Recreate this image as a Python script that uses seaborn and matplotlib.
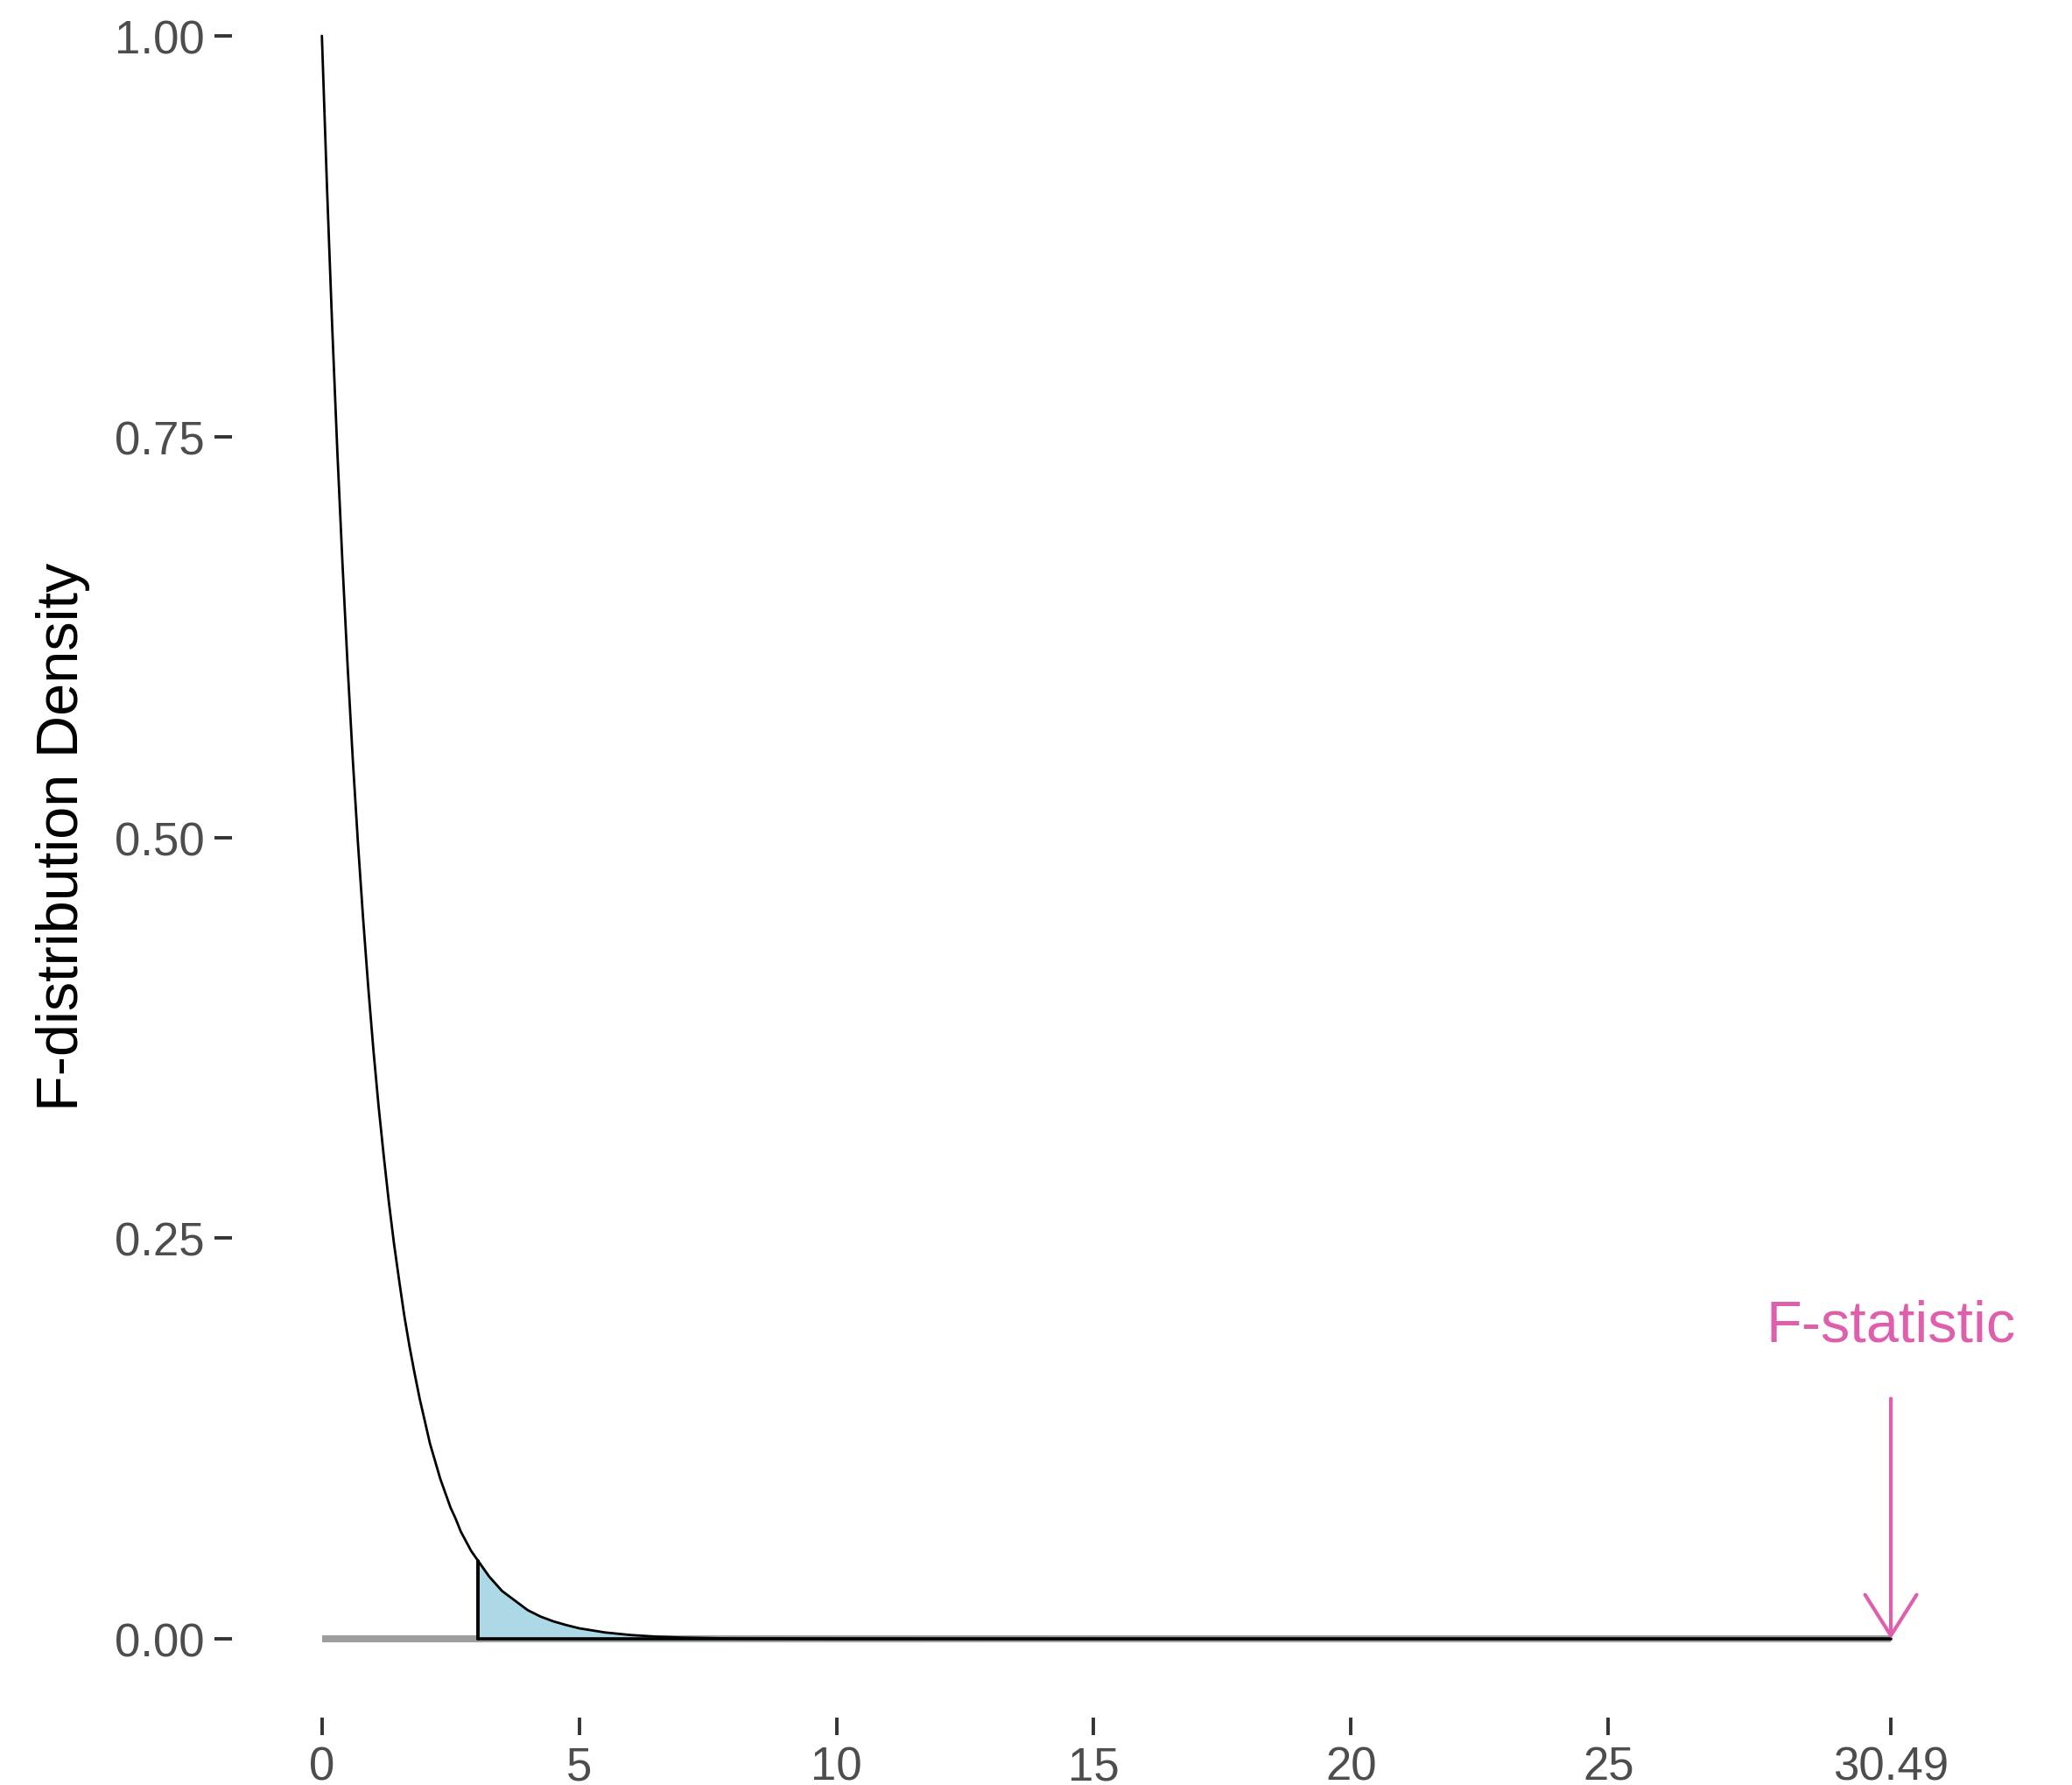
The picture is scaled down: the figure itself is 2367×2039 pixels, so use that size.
import numpy as np
import pandas as pd
import matplotlib
matplotlib.use("Agg")
import matplotlib.pyplot as plt
import seaborn as sns

# density values
f_x = [0, 0.1, 0.2, 0.3, 0.4, 0.5, 0.6, 0.7, 0.8, 0.9, 1.0, 1.1, 1.2, 1.3, 1.4,
       1.5, 1.6, 1.7, 1.8, 1.9, 2.0, 2.1, 2.2, 2.3, 2.4, 2.5, 2.6, 2.7, 2.8, 2.9,
       3.03, 3.25, 3.5, 3.75, 4.0, 4.25, 4.5, 4.75, 5.0, 5.5, 6.0, 6.5, 7.0, 8.0,
       10, 15, 20, 25, 30.49]
f_density = [1.000, 0.905, 0.819, 0.741, 0.671, 0.607, 0.549, 0.497, 0.450, 0.407,
             0.368, 0.333, 0.302, 0.273, 0.247, 0.224, 0.202, 0.183, 0.166, 0.150,
             0.136, 0.122, 0.111, 0.100, 0.091, 0.082, 0.075, 0.067, 0.061, 0.055,
             0.049, 0.039, 0.030, 0.024, 0.018, 0.014, 0.011, 0.0087, 0.0067,
             0.0041, 0.0025, 0.0015, 0.0009, 0.0003, 0.0001, 0, 0, 0, 0]
critical_value = 3.03
f_statistic = 30.49
x_ticks = [0, 5, 10, 15, 20, 25, 30.49]
x_tick_labels = ["0", "5", "10", "15", "20", "25", "30.49"]
y_ticks = [0.00, 0.25, 0.50, 0.75, 1.00]
y_tick_labels = ["0.00", "0.25", "0.50", "0.75", "1.00"]

pink = "#DE5FAC"

sns.set_theme(style="white")
plt.rcParams["font.family"] = ["Liberation Sans", "DejaVu Sans"]

df = pd.DataFrame({"x": f_x, "density": f_density})
tail = df[df["x"] >= critical_value]

fig = plt.figure(figsize=(2367 / 200, 2040 / 200), dpi=200)
ax = fig.add_axes([0.11196, 0.03775, 1 - 0.11196, 0.96225])

# baseline
ax.plot([0, f_statistic], [0, 0], color="black", alpha=0.38, lw=2.9,
        solid_capstyle="butt", zorder=1)

# shaded tail beyond critical value
ax.fill_between(tail["x"], 0, tail["density"], color="lightblue", zorder=2)
ax.plot([critical_value, critical_value], [0, tail["density"].iloc[0]],
        color="black", lw=1.4, zorder=3)
ax.plot(tail["x"], np.zeros(len(tail)), color="black", lw=1.3, zorder=3)

sns.lineplot(data=df, x="x", y="density", color="black", lw=1.0, ax=ax, zorder=4)

# F-statistic arrow
ax.annotate("", xy=(f_statistic, 0), xytext=(f_statistic, 0.15),
            arrowprops=dict(arrowstyle="->,head_length=0.84,head_width=0.53",
                            color=pink, lw=1.5, mutation_scale=20,
                            shrinkA=0, shrinkB=0), zorder=5)
ax.text(f_statistic, 0.186, "F-statistic", color=pink, fontsize=24,
        ha="center", va="baseline")

ax.set_xlim(-1.747, 34.01)
ax.set_ylim(-0.049, 1.0229)
ax.set_xticks(x_ticks)
ax.set_xticklabels(x_tick_labels)
ax.set_yticks(y_ticks)
ax.set_yticklabels(y_tick_labels)
ax.tick_params(axis="both", which="major", left=True, bottom=True, length=7.2,
               width=1.4, color="#333333", labelcolor="#4D4D4D", labelsize=19,
               pad=4)
sns.despine(ax=ax, left=True, bottom=True)
ax.set_xlabel("")
ax.set_ylabel("F-distribution Density", fontsize=24, color="black")
ax.yaxis.set_label_coords(-0.077, 0.513)

fig.savefig("out.png", dpi=200)
